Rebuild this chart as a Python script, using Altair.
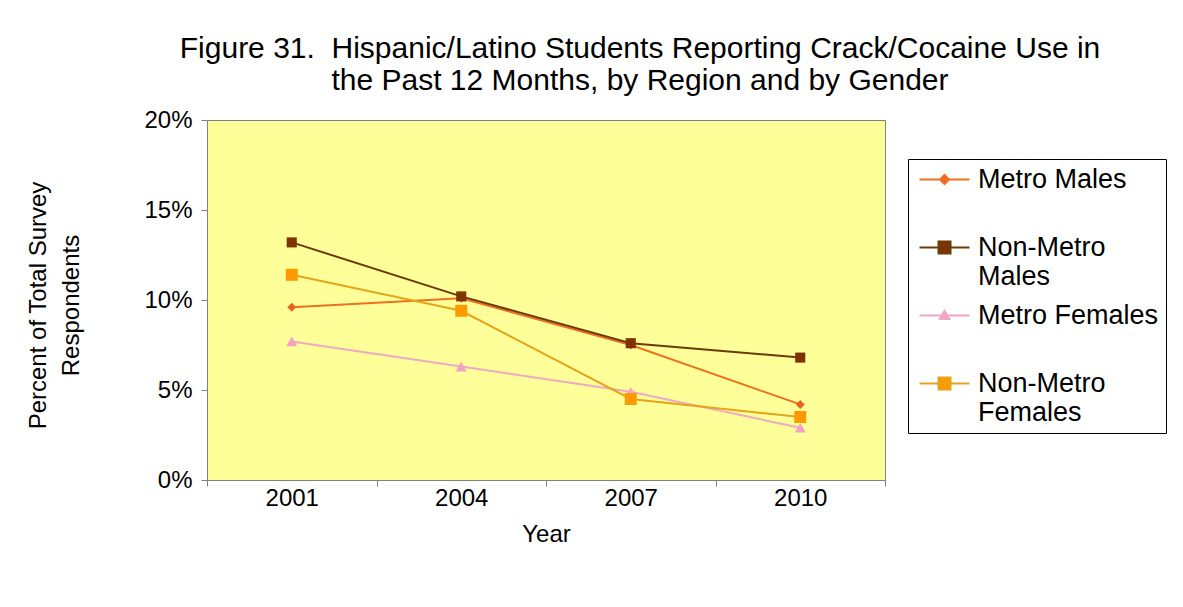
import altair as alt
import pandas as pd

years = ["2001", "2004", "2007", "2010"]
series = ["Metro Males", "Non-Metro Males", "Metro Females", "Non-Metro Females"]
metro_males = [9.6, 10.1, 7.5, 4.2]
nonmetro_males = [13.2, 10.2, 7.6, 6.8]
metro_females = [7.7, 6.3, 4.9, 2.9]
nonmetro_females = [11.4, 9.4, 4.5, 3.5]

line_colors = ["#EE7020", "#6B3A0A", "#F0A8C4", "#E4A41C"]
marker_colors = ["#E8641E", "#7F3300", "#F4A0C8", "#FF9900"]
shapes = ["diamond", "square", "triangle-up", "square"]
marker_sizes = [81, 144, 90, 130]

# legend symbols: a line segment with the marker on it (unit = sqrt(size)/2 px)
legend_paths = [
    "M-1.5,0H6.83M2.67,-0.75L3.42,0L2.67,0.75L1.92,0Z",
    "M-1.5,0H6.83M1.67,-1H3.67V1H1.67Z",
    "M-1.5,0H6.83M2.67,-0.8L3.47,0.6H1.87Z",
    "M-1.5,0H6.83M1.67,-1H3.67V1H1.67Z",
]

rows = []
for i, (name, vals) in enumerate(zip(series, [metro_males, nonmetro_males, metro_females, nonmetro_females])):
    for yr, v in zip(years, vals):
        rows.append({"Series": name, "Year": yr, "Value": v, "order": i})
df = pd.DataFrame(rows)

FONT = "Liberation Sans"

x_enc = alt.X(
    "Year:N",
    sort=years,
    scale=alt.Scale(type="band", paddingInner=0, paddingOuter=0),
    axis=alt.Axis(
        title="Year", tickBand="extent", labelAngle=0, labelFontSize=24,
        titleFontSize=24, titleFontWeight="normal", labelPadding=0, titlePadding=12,
        tickSize=6, domainColor="#808080", tickColor="#808080", labelColor="#000000",
        titleColor="#000000", grid=False,
    ),
)
y_enc = alt.Y(
    "Value:Q",
    scale=alt.Scale(domain=[0, 20]),
    axis=alt.Axis(
        values=[0, 5, 10, 15, 20], labelExpr="datum.value + '%'", labelFontSize=24,
        labelPadding=9, tickSize=6, domainColor="#808080", tickColor="#808080",
        labelColor="#000000", grid=False,
        title=["Percent of Total Survey", "Respondents"], titleFontSize=24,
        titleFontWeight="normal", titleColor="#000000", titleX=-157, titleY=185,
        titleAngle=270, titleBaseline="bottom", titleAlign="center", titleLineHeight=33,
    ),
)

base = alt.Chart(df)

lines = base.mark_line(strokeWidth=2).encode(
    x=x_enc,
    y=y_enc,
    color=alt.Color("Series:N", scale=alt.Scale(domain=series, range=line_colors), legend=None),
    order="order:Q",
    detail="Series:N",
)

points = base.mark_point(filled=True, opacity=1).encode(
    x=x_enc,
    y=y_enc,
    fill=alt.Fill("Series:N", scale=alt.Scale(domain=series, range=marker_colors), legend=None),
    shape=alt.Shape("Series:N", scale=alt.Scale(domain=series, range=shapes), legend=None),
    size=alt.Size("Series:N", scale=alt.Scale(domain=series, range=marker_sizes), legend=None),
)

legend_props = dict(
    orient="none", legendX=701, legendY=39, title=None, padding=7,
    strokeColor="#000000", fillColor="#FFFFFF", labelFontSize=27, labelFont=FONT,
    labelColor="#000000", labelOffset=36, symbolSize=144, symbolStrokeWidth=2,
    symbolOpacity=1, rowPadding=11, labelLimit=400,
    labelExpr="datum.label == 'Non-Metro Males' ? ['Non-Metro', 'Males'] : datum.label == 'Non-Metro Females' ? ['Non-Metro', 'Females'] : [datum.label, ' ']",
)

legend_layer = base.transform_filter("datum.order < 0").mark_point(filled=True).encode(
    x=x_enc,
    y=y_enc,
    shape=alt.Shape("Series:N", scale=alt.Scale(domain=series, range=legend_paths), legend=alt.Legend(**legend_props)),
    fill=alt.Fill("Series:N", scale=alt.Scale(domain=series, range=marker_colors), legend=alt.Legend(**legend_props)),
    stroke=alt.Stroke("Series:N", scale=alt.Scale(domain=series, range=line_colors), legend=alt.Legend(**legend_props)),
)

chart = (
    alt.layer(lines, points, legend_layer)
    .resolve_scale(shape="independent", fill="independent", stroke="independent")
    .properties(
        width=678,
        height=360,
        autosize=alt.AutoSizeParams(type="none"),
        padding={"left": 199, "top": 112, "right": 290, "bottom": 119},
        title=alt.TitleParams(
            text=["Figure 31.\u00a0 Hispanic/Latino Students Reporting Crack/Cocaine Use in",
                  "the Past 12 Months, by Region and by Gender"],
            fontSize=30, font=FONT, fontWeight="normal", anchor="middle", dx=94,
            offset=12, lineHeight=32, color="#000000",
        ),
    )
    .configure(font=FONT, background="#FFFFFF")
    .configure_view(fill="#FFFF99", stroke="#808080", strokeWidth=1)
)

chart.save("out.html", embed_options={"renderer": "svg", "actions": False})
